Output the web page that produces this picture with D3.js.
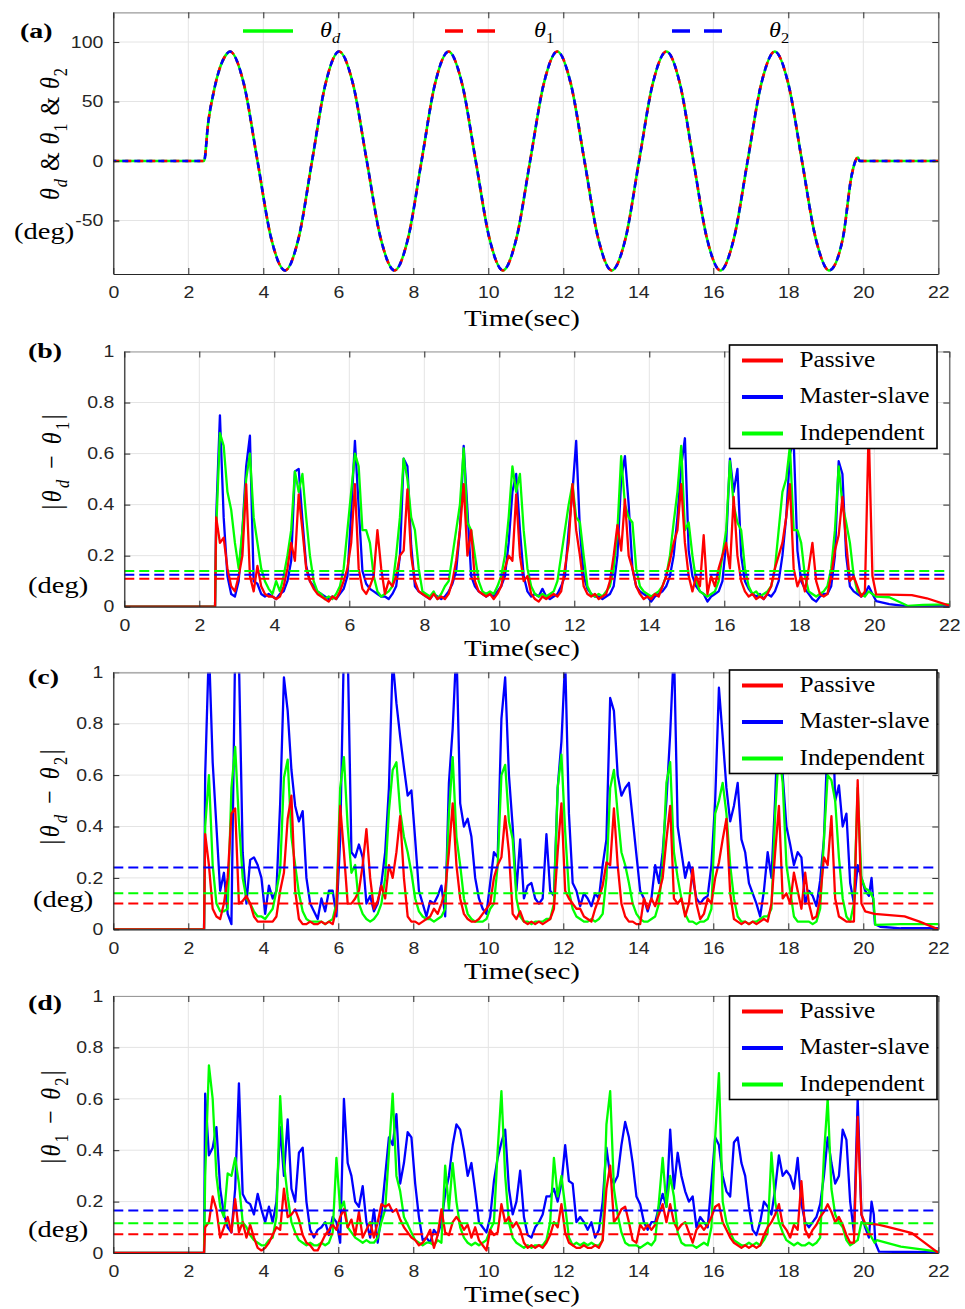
<!DOCTYPE html>
<html><head><meta charset="utf-8">
<script src="https://cdn.jsdelivr.net/npm/d3@7"></script>
<style>body{margin:0;background:#fff}svg{display:block}</style>
</head><body>
<script>
// ---------------- DATA ----------------
const xTicks = [0,2,4,6,8,10,12,14,16,18,20,22];
const yTicksA = [-50,0,50,100];
const yTicksErr = [0,0.2,0.4,0.6,0.8,1];

// panel (a): reference trajectory and joint angles (deg)
const thetaTime = [0,2.42,2.53,2.67,2.84,3.0,3.11,3.48,3.845,4.21,4.58,4.94,5.30,5.66,6.02,6.39,6.76,7.13,7.50,7.86,8.22,8.58,8.94,9.30,9.665,10.03,10.39,10.75,11.115,11.48,11.84,12.20,12.565,12.93,13.29,13.66,14.02,14.385,14.75,15.11,15.47,15.83,16.19,16.55,16.915,17.28,17.64,18.0,18.365,18.73,19.09,19.455,19.69,19.82,19.86,19.9,22];
const thetaD = [0,0,32,57,78,89,92,65,0,-65,-92,-65,0,65,92,65,0,-65,-92,-65,0,65,92,65,0,-65,-92,-65,0,65,92,65,0,-65,-92,-65,0,65,92,65,0,-65,-92,-65,0,65,92,65,0,-65,-92,-65,-12,2,3,0,0];
const theta1 = [0,0,32,57,78,89,92,65,0,-65,-92,-65,0,65,92,65,0,-65,-92,-65,0,65,92,65,0,-65,-92,-65,0,65,92,65,0,-65,-92,-65,0,65,92,65,0,-65,-92,-65,0,65,92,65,0,-65,-92,-65,-12,2,3,0,0];
const theta2 = [0,0,32,57,78,89,92,65,0,-65,-92,-65,0,65,92,65,0,-65,-92,-65,0,65,92,65,0,-65,-92,-65,0,65,92,65,0,-65,-92,-65,0,65,92,65,0,-65,-92,-65,0,65,92,65,0,-65,-92,-65,-12,2,3,0,0];

// error samples: every 0.1 s starting at 2.45 s (values in deg)
const sampleStart = 2.45, sampleStep = 0.1;

// (b) |θd − θ1|
const passiveB = [
.35,.25,.27,.15,.08,.06,.12,.2,.48,.12,
.06,.16,.08,.05,.04,.04,.03,.04,.08,.15,
.25,.18,.44,.3,.15,.1,.07,.05,.04,.03,
.02,.04,.03,.06,.1,.15,.25,.48,.15,.07,
.05,.08,.12,.3,.15,.05,.1,.08,.12,.2,
.22,.46,.2,.1,.06,.05,.04,.03,.05,.03,
.04,.03,.05,.1,.18,.3,.48,.2,.3,.1,
.06,.05,.04,.05,.03,.05,.08,.15,.2,.18,
.44,.2,.1,.12,.05,.03,.02,.04,.03,.04,
.05,.04,.06,.15,.25,.48,.3,.2,.08,.05,
.04,.05,.03,.04,.05,.1,.2,.32,.22,.42,
.2,.15,.08,.05,.03,.04,.03,.05,.04,.08,
.12,.18,.25,.3,.48,.25,.12,.06,.12,.08,
.28,.05,.12,.08,.15,.2,.25,.15,.43,.2,
.1,.06,.04,.05,.03,.04,.03,.05,.08,.15,
.2,.25,.35,.48,.15,.08,.12,.06,.15,.25,
.1,.05,.04,.05,.12,.22,.28,.43,.25,.1,
.12,.08,.04,.06,.7,.12];
const masterB = [
.35,.75,.35,.12,.05,.04,.10,.30,.55,.67,
.10,.09,.05,.04,.05,.04,.03,.05,.06,.10,
.18,.53,.54,.34,.16,.10,.08,.06,.05,.04,
.03,.04,.03,.05,.07,.12,.37,.65,.39,.14,
.09,.07,.06,.05,.04,.04,.03,.05,.08,.20,
.58,.55,.24,.08,.06,.05,.04,.03,.05,.04,
.03,.04,.06,.09,.14,.30,.63,.38,.12,.08,
.06,.05,.04,.05,.04,.06,.08,.12,.25,.45,
.52,.30,.12,.06,.04,.05,.04,.07,.04,.03,
.04,.05,.08,.12,.30,.45,.65,.30,.12,.07,
.05,.04,.04,.03,.04,.05,.08,.20,.50,.59,
.40,.15,.08,.06,.05,.04,.02,.04,.05,.06,
.08,.12,.20,.35,.55,.66,.22,.12,.08,.06,
.05,.02,.04,.05,.06,.10,.25,.58,.45,.54,
.20,.10,.07,.05,.04,.05,.03,.05,.04,.06,
.10,.20,.35,.60,.65,.22,.10,.07,.05,.03,
.02,.04,.05,.05,.08,.20,.57,.52,.20,.08,
.06,.05,.04,.05,.08,.05];
const indepB = [
.3,.68,.63,.45,.38,.25,.15,.3,.5,.6,
.35,.25,.15,.1,.07,.05,.1,.06,.12,.2,
.3,.53,.45,.52,.35,.2,.1,.06,.05,.03,
.04,.03,.05,.08,.15,.3,.45,.6,.55,.3,
.3,.25,.12,.06,.04,.05,.06,.08,.2,.35,
.58,.5,.35,.3,.15,.06,.05,.04,.06,.03,
.05,.08,.1,.2,.3,.4,.62,.33,.3,.2,
.1,.06,.05,.06,.05,.08,.12,.2,.35,.55,
.45,.52,.3,.15,.08,.05,.04,.05,.04,.05,
.06,.1,.2,.3,.4,.48,.35,.33,.2,.08,
.05,.04,.05,.04,.06,.08,.15,.3,.59,.4,
.35,.33,.15,.08,.06,.05,.04,.05,.06,.08,
.12,.2,.33,.45,.63,.3,.33,.2,.1,.06,
.05,.04,.05,.06,.1,.2,.3,.57,.4,.33,
.3,.15,.08,.05,.06,.04,.05,.06,.08,.15,
.3,.45,.5,.63,.3,.3,.25,.12,.06,.05,
.04,.05,.06,.08,.15,.3,.55,.4,.33,.25,
.12,.06,.05,.04,.06,.05];
const tailPassiveB = [[20.05,.048],[21.0,.045],[21.4,.033],[22,.004]];
const tailMasterB = [[20.05,.022],[20.4,.01],[20.8,.003],[22,.002]];
const tailIndepB = [[20.05,.04],[20.4,.037],[20.9,.003],[21.3,.007],[22,.009]];
const meansB = [0.11, 0.125, 0.14]; // passive, master-slave, independent

// (c) |θd − θ2|
const passiveC = [
.37,.25,.08,.05,.04,.1,.2,.45,.47,.1,
.11,.13,.1,.05,.03,.03,.03,.03,.03,.05,
.15,.22,.43,.52,.15,.04,.02,.02,.03,.02,
.02,.03,.02,.03,.02,.08,.48,.3,.1,.1,
.12,.15,.25,.39,.2,.08,.11,.17,.12,.25,
.2,.3,.44,.2,.05,.03,.03,.02,.03,.04,
.05,.08,.06,.1,.15,.3,.49,.25,.12,.06,
.04,.03,.03,.04,.06,.08,.1,.2,.25,.28,
.44,.3,.06,.04,.07,.03,.02,.03,.02,.03,
.02,.03,.04,.08,.3,.49,.15,.12,.1,.08,
.08,.05,.04,.03,.08,.12,.17,.26,.25,.47,
.25,.1,.05,.03,.03,.02,.02,.12,.08,.12,
.09,.14,.2,.35,.48,.12,.1,.12,.05,.1,
.24,.1,.04,.06,.12,.1,.2,.26,.35,.43,
.14,.04,.03,.02,.03,.02,.03,.02,.03,.04,
.03,.1,.3,.48,.12,.14,.1,.22,.15,.08,
.22,.1,.04,.05,.12,.28,.25,.44,.12,.05,
.04,.03,.03,.03,.58,.1];
const masterC = [
.6,1.1,.65,.4,.15,.22,.06,.02,1.1,1.05,
.3,.1,.27,.28,.25,.2,.06,.17,.12,.15,
.49,.98,.85,.62,.48,.42,.46,.2,.1,.07,
.04,.12,.07,.15,.15,.05,.35,1.1,1.1,.3,
.28,.33,.28,.1,.13,.07,.1,.18,.3,.55,
1.05,.88,.75,.63,.52,.54,.35,.15,.1,.05,
.11,.1,.13,.17,.05,.57,.78,1.1,.49,.4,
.43,.36,.2,.12,.08,.06,.18,.3,.28,.82,
.98,.6,.4,.15,.35,.12,.17,.18,.12,.1,
.12,.37,.15,.13,.55,.73,1.05,.45,.18,.15,
.09,.14,.12,.09,.14,.12,.25,.35,.9,.85,
.6,.52,.55,.57,.43,.29,.15,.12,.07,.12,
.25,.18,.3,.5,.76,1.1,.4,.3,.2,.26,
.2,.12,.1,.12,.13,.25,.5,.94,.75,.55,
.42,.48,.57,.35,.3,.18,.14,.1,.05,.15,
.3,.2,.51,.9,.6,.4,.33,.25,.3,.28,
.1,.15,.13,.09,.19,.35,.75,1.0,.5,.56,
.4,.45,.18,.1,.25,.2];
const indepC = [
.4,.6,.25,.1,.07,.07,.08,.55,.71,.42,
.2,.12,.1,.07,.05,.05,.04,.06,.08,.15,
.23,.59,.66,.36,.25,.14,.07,.04,.03,.03,
.03,.03,.02,.03,.04,.1,.55,.67,.4,.22,
.25,.1,.06,.04,.03,.04,.06,.1,.2,.46,
.62,.65,.46,.36,.3,.22,.12,.07,.05,.04,
.04,.03,.04,.05,.08,.45,.67,.36,.25,.12,
.06,.04,.03,.03,.03,.04,.08,.1,.25,.6,
.64,.42,.35,.12,.05,.03,.03,.02,.03,.03,
.03,.04,.04,.1,.55,.68,.38,.15,.08,.05,
.04,.03,.03,.04,.03,.04,.06,.2,.55,.62,
.45,.3,.25,.18,.1,.06,.04,.03,.03,.04,
.05,.1,.25,.57,.65,.3,.2,.12,.06,.03,
.03,.02,.03,.03,.04,.08,.45,.5,.57,.45,
.25,.12,.05,.03,.03,.02,.03,.03,.04,.05,
.05,.08,.45,.7,.57,.25,.15,.05,.03,.03,
.03,.03,.02,.03,.08,.35,.6,.58,.5,.28,
.12,.05,.03,.1,.55,.2];
const tailPassiveC = [[20.05,.07],[20.3,.06],[21.1,.05],[21.5,.03],[22,0]];
const tailMasterC = [[20.05,.15],[20.15,.13],[20.22,.2],[20.31,.02],[20.45,.01],[21,.004],[22,.004]];
const tailIndepC = [[20.05,.16],[20.15,.15],[20.27,.12],[20.32,.017],[21,.02],[22,.02]];
const meansC = [0.10, 0.24, 0.14];

// (d) |θ1 − θ2|
const passiveD = [
.1,.12,.22,.17,.06,.1,.14,.08,.21,.08,
.12,.06,.11,.06,.02,.01,.02,.04,.07,.1,
.09,.25,.14,.15,.17,.13,.07,.04,.03,.01,
.01,.04,.07,.09,.11,.09,.14,.17,.1,.13,
.07,.16,.06,.09,.12,.06,.12,.19,.18,.19,
.16,.17,.13,.1,.08,.06,.05,.03,.04,.06,
.09,.02,.07,.17,.08,.07,.12,.14,.12,.09,
.11,.06,.1,.05,.03,.01,.09,.07,.08,.19,
.12,.14,.1,.12,.09,.04,.02,.03,.02,.03,
.02,.04,.07,.12,.1,.19,.08,.04,.03,.02,
.02,.03,.02,.02,.03,.02,.05,.25,.34,.12,
.14,.17,.18,.12,.05,.04,.11,.09,.11,.09,
.11,.15,.19,.12,.19,.12,.09,.11,.12,.08,
.04,.09,.11,.09,.11,.14,.18,.19,.12,.09,
.06,.04,.03,.02,.03,.02,.03,.02,.03,.07,
.1,.12,.15,.19,.11,.09,.06,.11,.09,.28,
.09,.06,.09,.11,.14,.16,.19,.16,.12,.14,
.11,.07,.04,.04,.53,.15];
const masterD = [
.62,.38,.41,.49,.25,.15,.1,.08,.25,.66,
.23,.2,.19,.15,.23,.17,.12,.18,.12,.2,
.49,.3,.52,.25,.2,.39,.41,.2,.09,.06,
.09,.1,.12,.07,.14,.12,.04,.6,.35,.3,
.2,.18,.26,.12,.06,.17,.04,.15,.3,.45,
.42,.54,.27,.35,.47,.45,.27,.14,.05,.06,
.04,.09,.07,.12,.23,.3,.42,.5,.48,.4,
.3,.35,.24,.12,.1,.08,.14,.28,.37,.43,
.48,.25,.15,.2,.32,.14,.07,.06,.1,.12,
.15,.22,.22,.25,.2,.27,.42,.28,.27,.12,
.14,.12,.09,.12,.06,.09,.2,.41,.3,.27,
.3,.42,.51,.45,.35,.22,.19,.12,.09,.12,
.12,.18,.23,.18,.48,.25,.39,.3,.24,.2,
.22,.1,.14,.12,.1,.27,.45,.42,.3,.24,
.22,.43,.45,.35,.3,.18,.09,.07,.12,.2,
.18,.15,.25,.38,.3,.32,.3,.25,.37,.19,
.12,.1,.12,.14,.19,.3,.45,.35,.27,.3,
.48,.44,.2,.08,.6,.15];
const indepD = [
.3,.73,.6,.3,.18,.14,.31,.3,.37,.27,
.12,.1,.07,.05,.04,.03,.03,.05,.06,.14,
.61,.35,.22,.12,.08,.05,.04,.03,.04,.03,
.03,.04,.03,.04,.08,.37,.17,.2,.1,.08,
.06,.05,.04,.05,.04,.04,.06,.12,.17,.39,
.62,.3,.24,.14,.11,.08,.05,.04,.03,.04,
.04,.03,.05,.04,.34,.17,.35,.2,.1,.06,
.04,.03,.04,.03,.04,.05,.09,.12,.4,.63,
.3,.12,.06,.04,.03,.02,.03,.02,.03,.03,
.03,.05,.12,.37,.22,.3,.18,.06,.03,.04,
.03,.04,.03,.04,.03,.03,.05,.5,.63,.25,
.15,.08,.04,.03,.03,.03,.02,.03,.04,.03,
.05,.2,.37,.18,.3,.22,.08,.04,.03,.03,
.03,.02,.03,.04,.03,.1,.45,.7,.2,.12,
.08,.05,.04,.03,.03,.04,.03,.04,.03,.05,
.08,.39,.2,.12,.08,.05,.04,.03,.04,.03,
.03,.04,.03,.04,.06,.38,.6,.25,.15,.12,
.1,.05,.03,.04,.05,.12];
const tailPassiveD = [[20.05,.115],[20.4,.11],[20.7,.1],[21.3,.077],[21.5,.055],[22,0]];
const tailMasterD = [[20.05,.1],[20.15,.06],[20.22,.2],[20.28,.15],[20.32,.04],[20.42,.005],[22,.003]];
const tailIndepD = [[20.05,.11],[20.15,.08],[20.3,.04],[20.36,.05],[21,.025],[22,.005]];
const meansD = [0.073, 0.165, 0.116];

const seriesNames = ['Passive','Master-slave','Independent'];
const seriesColors = ['#ff0000','#0000ff','#00ff00'];

// ---------------- DRAWING ----------------
const SERIF = "'Liberation Serif','Times New Roman',serif";
const SANS = "'Liberation Sans',Arial,sans-serif";
const svg = d3.select('body').append('svg').attr('width',965).attr('height',1309);

function sText(g, x, y, txt, o) {
  return g.append('text')
    .attr('transform', `translate(${x},${y}) scale(${o.sx||1},1)`)
    .attr('font-family', o.family||SERIF).attr('font-size', o.size)
    .attr('font-weight', o.weight||'normal').attr('font-style', o.style||'normal')
    .attr('text-anchor', o.anchor||'start').attr('fill', o.fill||'#000').text(txt);
}
function mathText(sel, segs, size) {
  let shift = 0;
  segs.forEach(s => {
    const ts = sel.append('tspan').text(s.t).attr('font-style', s.it ? 'italic' : 'normal');
    if (s.sub) { ts.attr('font-size', size*0.68).attr('dy', size*0.28 - shift); shift = size*0.28; }
    else { ts.attr('font-size', size); if (shift) { ts.attr('dy', -shift); shift = 0; } }
  });
}
let clipN = 0;
function makePanel(c) {
  const x = d3.scaleLinear().domain([0,22]).range([c.left, c.right]);
  const y = d3.scaleLinear().domain(c.yDomain).range([c.bottom, c.top]);
  const g = svg.append('g');
  const id = 'clip' + (clipN++);
  svg.append('clipPath').attr('id', id).append('rect')
    .attr('x', c.left).attr('y', c.top).attr('width', c.right-c.left).attr('height', c.bottom-c.top);
  g.append('g').selectAll('line').data(xTicks).join('line')
    .attr('x1', d=>x(d)).attr('x2', d=>x(d)).attr('y1', c.top).attr('y2', c.bottom)
    .attr('stroke', '#e4e4e4').attr('stroke-width', 1);
  g.append('g').selectAll('line').data(c.yTicks).join('line')
    .attr('y1', d=>y(d)).attr('y2', d=>y(d)).attr('x1', c.left).attr('x2', c.right)
    .attr('stroke', '#e4e4e4').attr('stroke-width', 1);
  const data = g.append('g').attr('clip-path', `url(#${id})`);
  return {x, y, g, data, c};
}
function drawAxes(p) {
  const {x, y, g, c} = p;
  const styleTicks = (sel, col) => { sel.select('.domain').attr('stroke', col).attr('stroke-width', 1.2);
    sel.selectAll('.tick line').attr('stroke', '#262626'); };
  const b = g.append('g').attr('transform', `translate(0,${c.bottom})`)
    .call(d3.axisBottom(x).tickValues(xTicks).tickSizeInner(-6).tickSizeOuter(0).tickPadding(12.5).tickFormat(d=>String(d)));
  const l = g.append('g').attr('transform', `translate(${c.left},0)`)
    .call(d3.axisLeft(y).tickValues(c.yTicks).tickSizeInner(-6).tickSizeOuter(0).tickPadding(8.5).tickFormat(d=>String(d)));
  const t = g.append('g').attr('transform', `translate(0,${c.top})`)
    .call(d3.axisTop(x).tickValues(xTicks).tickSizeInner(-6).tickSizeOuter(0).tickFormat(''));
  const r = g.append('g').attr('transform', `translate(${c.right},0)`)
    .call(d3.axisRight(y).tickValues(c.yTicks).tickSizeInner(-6).tickSizeOuter(0).tickFormat(''));
  styleTicks(b, '#262626'); styleTicks(l, '#262626'); styleTicks(t, '#9a9a9a'); styleTicks(r, '#555');
  [b, l].forEach(a => a.selectAll('text').attr('font-family', SANS).attr('font-size', 16.5)
    .attr('fill', '#262626').attr('transform', 'scale(1.18,1)'));
  sText(svg, 522, c.titleY, 'Time(sec)', {size: 23, sx: 1.255, anchor: 'middle'});
  sText(svg, c.lab[0], c.lab[1], c.label, {size: 22, weight: 'bold', sx: 1.27});
  sText(svg, c.deg[0], c.deg[1], '(deg)', {size: 23, sx: 1.24});
  const yt = svg.append('text')
    .attr('transform', `translate(${c.yTitle[0]},${c.yTitle[1]}) rotate(-90) scale(1,1.18)`)
    .attr('font-family', SERIF).attr('text-anchor', 'middle')
    .attr('textLength', c.yTitle[2]).attr('lengthAdjust', 'spacing');
  mathText(yt, c.yTitleSegs, 24);
}
const line = (p) => d3.line().x(d=>p.x(d[0])).y(d=>p.y(d[1]));
function errPoints(vals, tail) {
  const pts = [[0,0],[2.42,0]];
  vals.forEach((v,i) => pts.push([sampleStart + sampleStep*i, v]));
  return pts.concat(tail);
}
function legendBox(top) {
  const g = svg.append('g');
  g.append('rect').attr('x', 729.5).attr('y', top).attr('width', 207.5).attr('height', 103.5)
    .attr('fill', '#fff').attr('stroke', '#000').attr('stroke-width', 1.6);
  [0,1,2].forEach(i => {
    g.append('line').attr('x1', 742).attr('x2', 783).attr('y1', top+15.5+36.5*i).attr('y2', top+15.5+36.5*i)
      .attr('stroke', seriesColors[i]).attr('stroke-width', 4);
    sText(g, 799.5, top+21.5+36.5*i, seriesNames[i], {size: 23, sx: 1.1});
  });
}
function errPanel(c, vals, tails, means, legTop) {
  const p = makePanel(c);
  const order = [1,2,0]; // blue, green, red on top
  order.forEach(i => {
    p.data.append('path').datum(errPoints(vals[i], tails[i])).attr('d', line(p))
      .attr('fill', 'none').attr('stroke', seriesColors[i]).attr('stroke-width', 2.3).attr('stroke-linejoin', 'round');
  });
  p.data.append('g').selectAll('line').data(means).join('line')
    .attr('x1', p.x(0)).attr('x2', p.x(22)).attr('y1', d=>p.y(d)).attr('y2', d=>p.y(d))
    .attr('stroke', (d,i)=>seriesColors[i]).attr('stroke-width', 2).attr('stroke-dasharray', '10,5');
  drawAxes(p);
  legendBox(legTop);
}

// ---- Panel (a)
{
  const c = {left:113.3, right:938.3, top:12.3, bottom:274, yDomain:[-95,125], yTicks:yTicksA,
    titleY:326, label:'(a)', lab:[20,38], deg:[14,239],
    yTitle:[59,134,132], yTitleSegs:[{t:'θ',it:1},{t:'d',it:1,sub:1},{t:' & '},{t:'θ',it:1},{t:'1',sub:1},{t:' & '},{t:'θ',it:1},{t:'2',sub:1}]};
  const p = makePanel(c);
  const pts = arr => thetaTime.map((t,i)=>[t, arr[i]]);
  const ln = d3.line().x(d=>p.x(d[0])).y(d=>p.y(d[1])).curve(d3.curveMonotoneX);
  p.data.append('path').datum(pts(thetaD)).attr('d', ln).attr('fill','none').attr('stroke','#00ff00').attr('stroke-width',2.6);
  p.data.append('path').datum(pts(theta1)).attr('d', ln).attr('fill','none').attr('stroke','#ff0000').attr('stroke-width',2.6).attr('stroke-dasharray','6,6');
  p.data.append('path').datum(pts(theta2)).attr('d', ln).attr('fill','none').attr('stroke','#0000ff').attr('stroke-width',2.6).attr('stroke-dasharray','6,6').attr('stroke-dashoffset',3);
  drawAxes(p);
  const lg = svg.append('g');
  lg.append('line').attr('x1',243).attr('x2',293).attr('y1',31).attr('y2',31).attr('stroke','#00ff00').attr('stroke-width',3.5);
  lg.append('line').attr('x1',445).attr('x2',495).attr('y1',31).attr('y2',31).attr('stroke','#ff0000').attr('stroke-width',3.5).attr('stroke-dasharray','18,14');
  lg.append('line').attr('x1',672).attr('x2',722).attr('y1',31).attr('y2',31).attr('stroke','#0000ff').attr('stroke-width',3.5).attr('stroke-dasharray','18,14');
  [[320,'d',1],[534,'1',0],[769,'2',0]].forEach(([lx,s,it]) => {
    const tx = lg.append('text').attr('transform',`translate(${lx},36.5) scale(1.1,1)`).attr('font-family',SERIF);
    mathText(tx, [{t:'θ',it:1},{t:s,it:it,sub:1}], 22);
  });
}
// ---- Panel (b)
errPanel({left:124.3, right:949.3, top:351.5, bottom:606.7, yDomain:[0,1], yTicks:yTicksErr,
  titleY:656, label:'(b)', lab:[28,358], deg:[28,593],
  yTitle:[61,462,95], yTitleSegs:[{t:'|'},{t:'θ',it:1},{t:'d',it:1,sub:1},{t:' − '},{t:'θ',it:1},{t:'1',sub:1},{t:'|'}]},
  [passiveB, masterB, indepB], [tailPassiveB, tailMasterB, tailIndepB], meansB, 345);
// ---- Panel (c)
errPanel({left:113.3, right:938.3, top:672.3, bottom:929.3, yDomain:[0,1], yTicks:yTicksErr,
  titleY:979, label:'(c)', lab:[28,684], deg:[33,907],
  yTitle:[59,797,95], yTitleSegs:[{t:'|'},{t:'θ',it:1},{t:'d',it:1,sub:1},{t:' − '},{t:'θ',it:1},{t:'2',sub:1},{t:'|'}]},
  [passiveC, masterC, indepC], [tailPassiveC, tailMasterC, tailIndepC], meansC, 670);
// ---- Panel (d)
errPanel({left:113.3, right:938.3, top:996, bottom:1253, yDomain:[0,1], yTicks:yTicksErr,
  titleY:1302, label:'(d)', lab:[28,1010], deg:[28,1237],
  yTitle:[60,1117,93], yTitleSegs:[{t:'|'},{t:'θ',it:1},{t:'1',sub:1},{t:' − '},{t:'θ',it:1},{t:'2',sub:1},{t:'|'}]},
  [passiveD, masterD, indepD], [tailPassiveD, tailMasterD, tailIndepD], meansD, 996);
</script>
</body></html>
